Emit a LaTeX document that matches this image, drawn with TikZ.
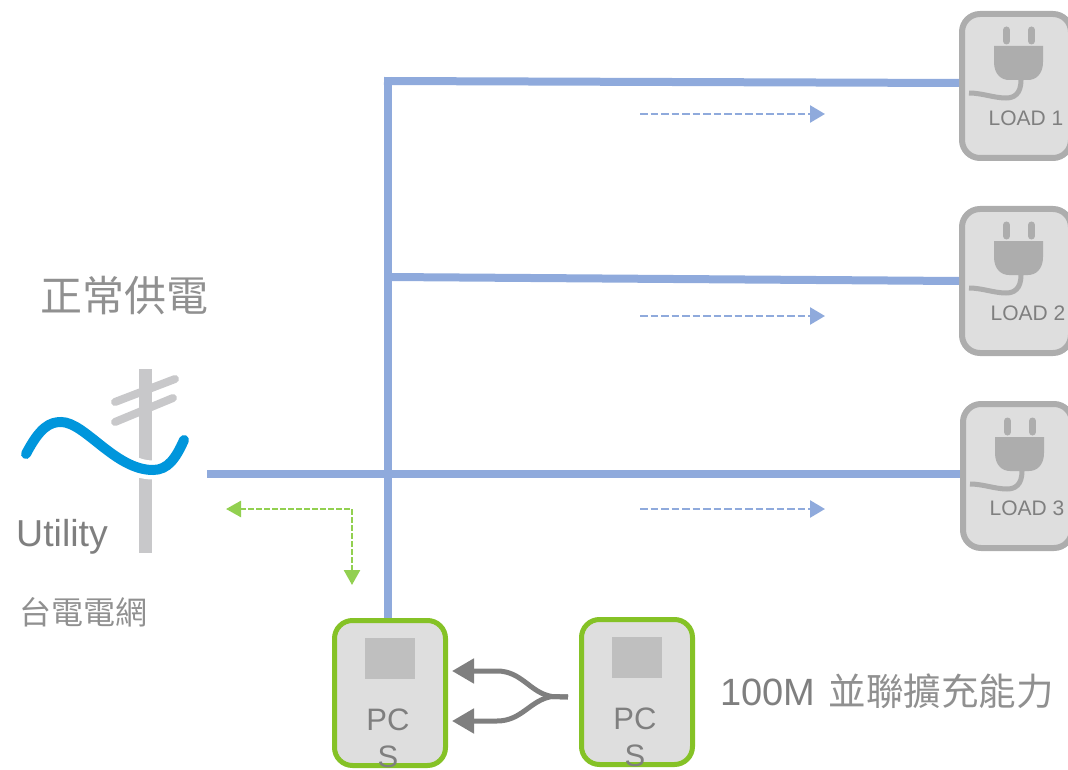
\documentclass[tikz,border=0pt]{standalone}
\usepackage{fontspec}
\setmainfont{Liberation Sans}
\newfontfamily\cjk{Noto Sans CJK TC}
\usepackage{xcolor}
\usetikzlibrary{arrows.meta}
\definecolor{feedblue}{HTML}{8FAADC}
\definecolor{okgreen}{HTML}{92D050}
\definecolor{pcsgreen}{HTML}{85C226}
\definecolor{boxgray}{HTML}{DEDEDE}
\definecolor{edgegray}{HTML}{ADADAD}
\definecolor{plate}{HTML}{BFBFBF}
\definecolor{polegray}{HTML}{C8C8CA}
\definecolor{wave}{HTML}{0096DC}
\definecolor{textgray}{HTML}{7F7F7F}
\definecolor{thingray}{HTML}{909090}
\tikzset{
	loadbox/.style={draw=edgegray, fill=boxgray, line width=6pt, rounded corners=18pt, minimum width=109pt, minimum height=144pt, inner sep=0pt},
	pcsbox/.style={draw=pcsgreen, fill=boxgray, line width=5pt, rounded corners=18pt, minimum width=111pt, minimum height=145pt, inner sep=0pt},
	platebox/.style={fill=plate, minimum width=50pt, minimum height=41pt, inner sep=0pt},
	feeder/.style={draw=feedblue, line width=8pt},
	flow/.style={draw=feedblue, line width=2.6pt, dash pattern=on 7.5pt off 3pt, -{Triangle[length=15pt,width=17pt]}},
	backup/.style={draw=okgreen, line width=2.5pt, dash pattern=on 5.5pt off 2.5pt, {Triangle[length=15pt,width=16pt]}-{Triangle[length=15pt,width=16pt]}},
	merge/.style={draw=textgray, line width=5pt, -{Triangle[length=22pt,width=24pt]}},
	label/.style={text=textgray, inner sep=0pt},
}
\begin{document}
\begin{tikzpicture}[x=1pt, y=-1pt]
	\useasboundingbox (0,0) rectangle (1068,770);
	% pole and wave
	\fill[polegray] (139,369) rectangle (152,553);
	\draw[polegray, line width=8pt, line cap=round] (115,402) -- (175,379);
	\draw[polegray, line width=8pt, line cap=round] (115,422) -- (173,398);
	\draw[white, line width=19pt] (26,454) .. controls (40,427) and (50,422) .. (61,422)
		.. controls (85,422) and (115,470) .. (153,470) .. controls (168,470) and (176,458) .. (184,440);
	\draw[wave, line width=10pt, line cap=round] (26,454) .. controls (40,427) and (50,422) .. (61,422)
		.. controls (85,422) and (115,470) .. (153,470) .. controls (168,470) and (176,458) .. (184,440);
	% boxes
	\node (load1) [loadbox] at (1016.5,86) {};
	\node (load2) [loadbox] at (1016.5,281) {};
	\node (load3) [loadbox] at (1017.5,476) {};
	\node (pcs1) [pcsbox] at (390,693) {};
	\node (pcs2) [pcsbox] at (637,692) {};
	\node (plate1) [platebox] at (390,658.5) {};
	\node (plate2) [platebox] at (637,657.5) {};
	% feeders
	\coordinate (bustop) at (388,81);
	\coordinate (tap2) at (388,277);
	\coordinate (grid) at (207,474);
	\draw[feeder] ([xshift=-4pt]bustop) -- ([yshift=3pt]load1.west);
	\draw[feeder] (tap2) -- (load2.west);
	\draw[feeder] (grid) -- ([yshift=2pt]load3.west);
	\draw[feeder] ([yshift=4pt]bustop) -- (pcs1.north -| bustop);
	% flow arrows
	\coordinate (flow1a) at (640,114);
	\coordinate (flow1b) at (825,114);
	\coordinate (flow2a) at (640,316);
	\coordinate (flow2b) at (825,316);
	\coordinate (flow3a) at (640,509);
	\coordinate (flow3b) at (825,509);
	\draw[flow] (flow1a) -- (flow1b);
	\draw[flow] (flow2a) -- (flow2b);
	\draw[flow] (flow3a) -- (flow3b);
	\coordinate (backupa) at (226,509);
	\coordinate (backupb) at (352,585);
	\draw[backup] (backupa) -| (backupb);
	% merge arrows
	\coordinate (fork) at (568,697);
	\coordinate (tip1) at (452,671);
	\coordinate (tip2) at (452,721);
	\draw[merge] (fork) -- (552,696.5) .. controls (530,693) and (522,671) .. (497,671) -- (tip1);
	\draw[merge] (fork) -- (552,696.5) .. controls (530,700) and (522,721) .. (497,721) -- (tip2);
	% plugs
	\foreach \px/\py in {0/0, 0/195, 1/391} {
		\begin{scope}[shift={(\px,\py)}]
			\draw[edgegray, line width=7pt, line cap=round] (1006.5,30) -- (1006.5,41);
			\draw[edgegray, line width=7pt, line cap=round] (1031.5,30) -- (1031.5,41);
			\fill[edgegray] (994,46) -- (1043,46) -- (1043,62)
				.. controls (1043,74) and (1036,80) .. (1028,80) -- (1009,80) .. controls (1001,80) and (994,74) .. (994,62) -- cycle;
			\draw[edgegray, line width=5pt] (1021,80) .. controls (1021,94) and (1014,98) .. (1006,98) .. controls (994,98) and (982,93) .. (969,93);
		\end{scope}
	}
	% labels
	\node (load1text) [label, font=\fontsize{21}{24}\selectfont] at (1026,118.5) {LOAD 1};
	\node (load2text) [label, font=\fontsize{21}{24}\selectfont] at (1028,313.5) {LOAD 2};
	\node (load3text) [label, font=\fontsize{21}{24}\selectfont] at (1027,508.5) {LOAD 3};
	\node (pcs1text) [label, align=center, font=\fontsize{31}{37}\selectfont] at (388,738) {PC\\S};
	\node (pcs2text) [label, align=center, font=\fontsize{31}{37}\selectfont] at (635,737) {PC\\S};
	\node (utility) [label, anchor=west, font=\fontsize{37.5}{40}\selectfont] at (16,537) {Utility};
	\node (normal) [label, text=thingray, anchor=west, font=\fontsize{42}{46}\selectfont\cjk] at (40.5,296) {正常供電};
	\node (taipower) [label, text=thingray, anchor=west, font=\fontsize{32}{36}\selectfont\cjk] at (19,612) {台電電網};
	\node (parallel) [label, anchor=west, font=\fontsize{38}{42}\selectfont] at (720,691) {100M\hspace{3pt} {\color{thingray}\cjk\fontsize{37.5}{42}\selectfont 並聯擴充能力}};
\end{tikzpicture}
\end{document}
